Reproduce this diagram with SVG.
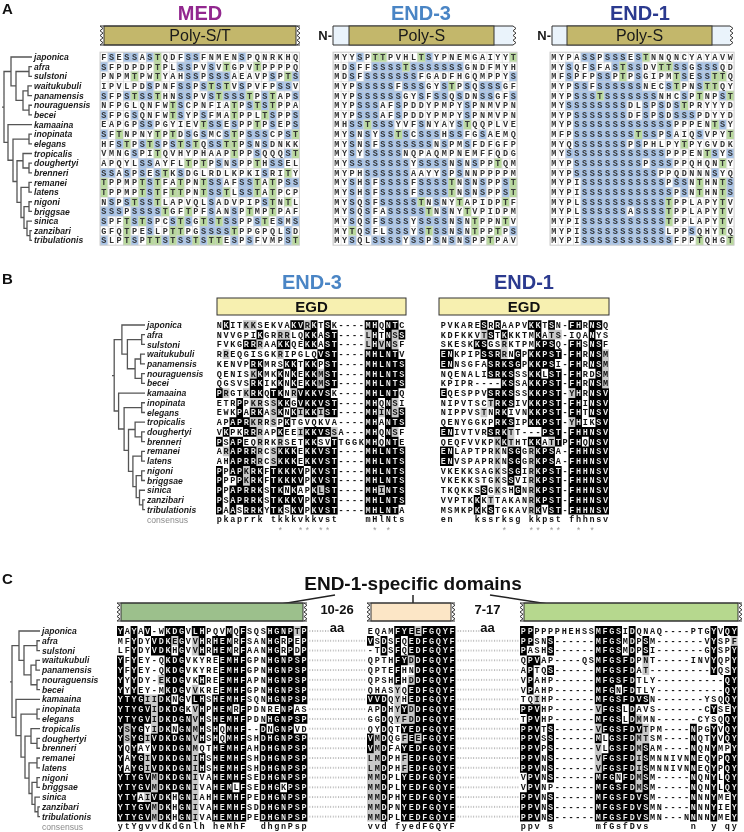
<svg xmlns="http://www.w3.org/2000/svg" width="744" height="832" viewBox="0 0 744 832">
<defs>
<style>
.nm{font-family:"Liberation Sans",Arial,sans-serif;font-weight:bold;font-style:italic;font-size:8.6px;fill:#1a1a1a}
.lbl{font-family:"Liberation Sans",Arial,sans-serif;font-weight:bold;font-size:15px;fill:#111}
.ttl{font-family:"Liberation Sans",Arial,sans-serif;font-weight:bold;font-size:20px;text-anchor:middle}
.bt{font-family:"Liberation Sans",Arial,sans-serif;font-size:16px;text-anchor:middle;fill:#1a1a1a}
.sa{font-family:"Liberation Mono","Courier New",monospace;font-weight:bold;font-size:8.5px;letter-spacing:2.57px;fill:#333}
.sb{font-family:"Liberation Mono","Courier New",monospace;font-weight:bold;font-size:8.5px;letter-spacing:1.66px;fill:#111}
.sc{font-family:"Liberation Mono","Courier New",monospace;font-weight:bold;font-size:8.5px;letter-spacing:1.7px;fill:#111}
.pre{white-space:pre}
.star{fill:#9a9a9a;font-weight:normal}
.cl{font-family:"Liberation Sans",Arial,sans-serif;font-size:8.6px;fill:#8a8a8a}
.blu{fill:none;stroke:#a8c4e8;stroke-width:1}
.grn{fill:none;stroke:#b9d99e;stroke-width:1}
.blk{fill:none;stroke:#fff;stroke-width:1;mix-blend-mode:difference}
.gry{fill:none;stroke:#c8c8c8;stroke-width:1}
.tree{fill:none;stroke:#555;stroke-width:1.3;vector-effect:non-scaling-stroke}
.zz{fill:none;stroke:#333;stroke-width:1}
.edge{stroke:#333;stroke-width:1}
.aa{font-family:"Liberation Sans",Arial,sans-serif;font-weight:bold;font-size:13px;fill:#111;text-anchor:middle}
</style>
<pattern id="g1" patternUnits="userSpaceOnUse" x="100" y="52.175" width="7.67" height="9.65"><path d="M0 0V9.65M0 0H7.67" stroke="#cdcdcd" stroke-width="1" fill="none"/></pattern>
<pattern id="g2" patternUnits="userSpaceOnUse" x="333" y="52.175" width="7.67" height="9.65"><path d="M0 0V9.65M0 0H7.67" stroke="#cdcdcd" stroke-width="1" fill="none"/></pattern>
<pattern id="g3" patternUnits="userSpaceOnUse" x="550" y="52.175" width="7.67" height="9.65"><path d="M0 0V9.65M0 0H7.67" stroke="#cdcdcd" stroke-width="1" fill="none"/></pattern>
<pattern id="dt" patternUnits="userSpaceOnUse" x="0" y="626.1" width="2.6" height="9.77"><rect x="0" y="4.4" width="1" height="1" fill="#777"/></pattern>
<path id="zA" d="M0 0l3 2.375-3 2.375 3 2.375-3 2.375 3 2.375-3 2.375 3 2.375-3 2.375"/>
<path id="zC" d="M0 0l3 2.25-3 2.25 3 2.25-3 2.25 3 2.25-3 2.25 3 2.25-3 2.25"/>
<path id="tree" class="tree" d="M0 1H-3V2H0M0 3H-4V4H0M0 5H-3V6H0M-4 3.5H-9V5.5H-3M-3 1.5H-16V4.5H-9M0 0H-21V3H-16M0 8H-3V9H0M0 11H-3V12H0M0 10H-9V11.5H-3M0 13H-3V14H0M0 15H-3V16H0M0 18H-2V19H0M0 17H-5V18.5H-2M-3 15.5H-8V17.75H-5M-3 13.5H-11V16.63H-8M-9 10.75H-15V15.06H-11M-3 8.5H-19V12.9H-15M0 7H-24V10.7H-19M-21 1.5H-28V8.85H-24M-28 5.2H-30"/>
</defs>
<rect width="744" height="832" fill="#fff"/>

<!-- ===== PANEL A ===== -->
<g id="panelA">
<text class="lbl" x="2" y="14">A</text>
<text class="ttl" x="200" y="20" fill="#92278f">MED</text>
<text class="ttl" x="421" y="20" fill="#4a85c5">END-3</text>
<text class="ttl" x="640" y="20" fill="#2b3a8f">END-1</text>
<g id="barMED">
<rect x="104" y="26" width="192" height="19" fill="#c3b76b" stroke="#333"/>
<path class="edge" d="M100 26H300M100 45H300"/>
<use href="#zA" x="100" y="26" class="zz"/>
<use href="#zA" x="297" y="26" class="zz"/>
<text class="bt" x="200" y="41">Poly-S/T</text>
</g>
<g id="barEND3A">
<text x="332" y="40" text-anchor="end" font-family="Liberation Sans,Arial,sans-serif" font-weight="bold" font-size="13" fill="#1a1a1a">N-</text>
<path d="M513 26H333V45H513" fill="#eaf3fb" stroke="#333"/>
<rect x="349" y="26" width="145" height="19" fill="#c3b76b" stroke="#333"/>
<use href="#zA" x="513" y="26" class="zz"/>
<text class="bt" x="421.5" y="41">Poly-S</text>
</g>
<g id="barEND1A">
<text x="551" y="40" text-anchor="end" font-family="Liberation Sans,Arial,sans-serif" font-weight="bold" font-size="13" fill="#1a1a1a">N-</text>
<path d="M730 26H552V45H730" fill="#eaf3fb" stroke="#333"/>
<rect x="567" y="26" width="145" height="19" fill="#c3b76b" stroke="#333"/>
<use href="#zA" x="730" y="26" class="zz"/>
<text class="bt" x="639.5" y="41">Poly-S</text>
</g>
<use href="#tree" transform="translate(32 57) scale(1 9.65)"/>
<text class="nm" x="34" y="60.1">japonica<tspan x="34" dy="9.65">afra</tspan><tspan x="34" dy="9.65">sulstoni</tspan><tspan x="34" dy="9.65">waitukubuli</tspan><tspan x="34" dy="9.65">panamensis</tspan><tspan x="34" dy="9.65">nouraguensis</tspan><tspan x="34" dy="9.65">becei</tspan><tspan x="34" dy="9.65">kamaaina</tspan><tspan x="34" dy="9.65">inopinata</tspan><tspan x="34" dy="9.65">elegans</tspan><tspan x="34" dy="9.65">tropicalis</tspan><tspan x="34" dy="9.65">doughertyi</tspan><tspan x="34" dy="9.65">brenneri</tspan><tspan x="34" dy="9.65">remanei</tspan><tspan x="34" dy="9.65">latens</tspan><tspan x="34" dy="9.65">nigoni</tspan><tspan x="34" dy="9.65">briggsae</tspan><tspan x="34" dy="9.65">sinica</tspan><tspan x="34" dy="9.65">zanzibari</tspan><tspan x="34" dy="9.65">tribulationis</tspan></text>

<g id="alnMED">
<g transform="translate(100 57) scale(7.67 9.65)">
<path class="blu" d="M1 0h1M3 0h2M6 0h1M11 0h2M18 0h1M0 1h1M10 1h2M14 1h1M11 2h2M14 2h3M22 2h1M25 2h1M6 3h1M10 3h2M13 3h1M15 3h1M18 3h1M23 3h2M0 4h1M3 4h1M5 4h2M10 4h2M14 4h1M16 4h3M21 4h1M25 4h1M10 5h1M19 5h1M21 5h1M0 6h1M4 6h1M10 6h1M13 6h1M22 6h1M25 6h1M5 7h2M14 7h2M17 7h1M22 7h1M25 7h1M0 8h1M11 8h1M13 8h1M16 8h1M19 8h3M24 8h1M2 9h1M5 9h1M7 9h1M9 9h1M11 9h1M14 9h2M19 9h1M21 9h1M4 10h1M20 10h1M24 10h1M5 11h2M15 11h1M17 11h1M22 11h2M0 12h2M3 12h1M5 12h1M7 12h1M10 12h1M21 12h1M6 13h1M14 13h2M18 13h2M24 13h2M6 14h1M14 14h2M18 14h2M1 15h1M3 15h1M5 15h2M14 15h1M21 15h1M0 16h3M4 16h4M14 16h1M17 16h1M0 17h1M4 17h1M6 17h1M9 17h1M11 17h1M14 17h1M16 17h2M20 17h1M23 17h1M25 17h1M6 18h1M13 18h4M24 18h1M0 19h1M4 19h1M8 19h1M10 19h2M13 19h1M17 19h1M19 19h1M24 19h1"/>
<path class="grn" d="M7 0h1M7 1h1M16 1h1M20 1h1M4 2h1M7 2h1M24 2h1M14 3h1M16 3h1M4 4h1M7 4h1M15 4h1M19 4h1M22 4h1M9 5h1M17 5h1M20 5h1M22 5h1M9 6h1M17 6h1M21 6h1M13 7h1M20 7h1M2 8h1M7 8h1M9 8h1M17 8h1M25 8h1M3 9h1M6 9h1M10 9h1M12 9h1M16 9h2M7 10h1M17 10h1M25 10h1M11 11h1M13 11h1M20 11h1M8 12h1M24 12h1M0 13h1M5 13h1M7 13h1M10 13h1M13 13h1M20 13h1M22 13h1M0 14h1M5 14h1M7 14h1M9 14h2M13 14h1M16 14h1M20 14h1M22 14h1M4 15h1M7 15h1M22 15h1M24 15h1M8 16h1M11 16h1M19 16h1M22 16h1M3 17h1M5 17h1M10 17h1M13 17h1M15 17h1M21 17h1M3 18h1M9 18h2M17 18h1M3 19h1M6 19h2M9 19h1M12 19h1M14 19h2M25 19h1"/>
</g>
<rect x="100" y="52.175" width="199.42" height="193" fill="url(#g1)" stroke="#cdcdcd"/>
<text class="sa" x="101.29" y="59.9">FSESSASTQDFSSFNMENSPQNRKHQ<tspan x="101.29" dy="9.65">SFPDPDPTPLSSPVSVTGPVTPPPPQ</tspan><tspan x="101.29" dy="9.65">PNPMTPWTYAHSSPSSSAEAVPSPTS</tspan><tspan x="101.29" dy="9.65">IPVLPDSPNFSSPSTSTVSPVFPSSV</tspan><tspan x="101.29" dy="9.65">SFPSTSSTHNSSPVSTSSSTPSTAPS</tspan><tspan x="101.29" dy="9.65">NFPGLQNFWTSCPNFIATPSTSTPPA</tspan><tspan x="101.29" dy="9.65">SFPGSQNFWTSYPSFMATPPLTSPPS</tspan><tspan x="101.29" dy="9.65">EAPGPSSPGYIEVTSSESPPTPSEPS</tspan><tspan x="101.29" dy="9.65">SFTNPNYTPTDSGSMCSTPSSSCPST</tspan><tspan x="101.29" dy="9.65">HFSTPSTSPSTSTQSSTTPSNSDNKK</tspan><tspan x="101.29" dy="9.65">VMNGSPITQVHYPHAAPTPPSQQQST</tspan><tspan x="101.29" dy="9.65">APQYLSSAYFLTPTPSNSPPTHSSEL</tspan><tspan x="101.29" dy="9.65">SSASPSESTKSDGLRDLKPKISRITY</tspan><tspan x="101.29" dy="9.65">TPPMPTSTFATPNTSSAFSSTATPSS</tspan><tspan x="101.29" dy="9.65">TPPMPTSTFTTPNTSSTLSSTATPCP</tspan><tspan x="101.29" dy="9.65">NSPSTSSTLAPVQLSADVPIPSTNTL</tspan><tspan x="101.29" dy="9.65">SSSPSSSSTGFTPFSANSPTMPTPAF</tspan><tspan x="101.29" dy="9.65">SPFTSTSPCSTSGTSTSSPPSTESMS</tspan><tspan x="101.29" dy="9.65">GFQTPESLPTTPGSSSSTPPGPQLSD</tspan><tspan x="101.29" dy="9.65">SLPTSPTTSTSSTSTTESPSFVMPST</tspan></text>
</g>

<g id="alnEND3A">
<g transform="translate(333 57) scale(7.67 9.65)">
<path class="blu" d="M3 0h1M12 0h1M2 1h1M5 1h4M10 1h7M2 2h1M4 2h7M23 2h1M3 3h5M9 3h3M14 3h1M17 3h1M19 3h3M3 4h6M11 4h1M13 4h2M16 4h1M19 4h2M23 4h1M3 5h3M8 5h1M17 5h1M3 6h3M8 6h1M17 6h1M2 7h2M5 7h3M11 7h1M16 7h1M2 8h1M4 8h1M6 8h2M9 8h1M11 8h3M15 8h2M19 8h1M2 9h1M4 9h1M6 9h7M14 9h1M17 9h1M2 10h1M4 10h5M2 11h8M11 11h4M16 11h1M18 11h1M4 12h6M14 12h1M16 12h1M2 13h1M4 13h1M6 13h4M11 13h4M17 13h1M19 13h1M22 13h1M2 14h1M4 14h1M6 14h4M11 14h4M17 14h1M19 14h1M22 14h1M2 15h1M4 15h1M6 15h5M13 15h1M2 16h1M4 16h1M7 16h5M14 16h1M2 17h1M4 17h1M6 17h4M11 17h4M16 17h1M4 18h1M7 18h3M11 18h1M13 18h2M16 18h1M23 18h1M2 19h1M5 19h4M10 19h2M13 19h1M15 19h1M17 19h1"/>
<path class="grn" d="M5 0h2M11 0h1M23 0h1M9 1h1M15 3h1M4 7h1M17 7h1M8 8h1M21 11h1M15 13h1M23 13h1M15 14h1M23 14h1M11 15h1M16 15h1M22 15h1M12 16h1M17 16h1M18 17h1M22 17h1M2 18h1M12 18h1M18 18h1M21 18h1M20 19h1"/>
</g>
<rect x="333" y="52.175" width="184.08" height="193" fill="url(#g2)" stroke="#cdcdcd"/>
<text class="sa" x="334.29" y="59.9">MYYSPTTPVHLTSYPNEMGAIYYT<tspan x="334.29" dy="9.65">MDSFFSSSSTSSSSSSSGNDFMYH</tspan><tspan x="334.29" dy="9.65">MDSFSSSSSSSFGADFHGQMPPYS</tspan><tspan x="334.29" dy="9.65">MYPSSSSSFSSSGYSTPSQSSSGF</tspan><tspan x="334.29" dy="9.65">MYPSSSSSSGYSFSSQSDNSSGFS</tspan><tspan x="334.29" dy="9.65">MYPSSSAFSPDDYPMPYSPNMVPN</tspan><tspan x="334.29" dy="9.65">MYPSSSAFSPDDYPMPYSPNMVPN</tspan><tspan x="334.29" dy="9.65">MHSSTSSSYVFSNYAYSTQQPLVE</tspan><tspan x="334.29" dy="9.65">MYSNSYSSTSCSSSHSSFGSAEMQ</tspan><tspan x="334.29" dy="9.65">MYSNSFSSSSSSSNSPMSFDFGFP</tspan><tspan x="334.29" dy="9.65">MYSYSSSSSNQPAQMPNEMFFQDG</tspan><tspan x="334.29" dy="9.65">MYSSSSSSSSYSSSSNSNSPPTQM</tspan><tspan x="334.29" dy="9.65">MYPHSSSSSSAAYYSPSNNPPPPM</tspan><tspan x="334.29" dy="9.65">MYSHSFSSSSFSSSSTNSNSPPST</tspan><tspan x="334.29" dy="9.65">MYSHSFSSSSFSSSSTNSNSPPST</tspan><tspan x="334.29" dy="9.65">MYSQSFSSSSSTNSNYTAPIDPTF</tspan><tspan x="334.29" dy="9.65">MYSQSFASSSSSTNSNYTVPIDPM</tspan><tspan x="334.29" dy="9.65">MYSQSFSSSSYSSSSNSNTPPNTV</tspan><tspan x="334.29" dy="9.65">MYTQSFLSSSYSTSSNSNTPPTPS</tspan><tspan x="334.29" dy="9.65">MYSQLSSSSYSSPSNSNSPPTPAV</tspan></text>
</g>

<g id="alnEND1A">
<g transform="translate(550 57) scale(7.67 9.65)">
<path class="blu" d="M4 0h2M7 0h3M11 0h1M2 1h1M5 1h1M8 1h1M10 1h2M16 1h2M19 1h3M2 2h1M6 2h2M11 2h1M17 2h1M19 2h2M3 3h2M6 3h6M15 3h1M19 3h1M3 4h3M7 4h7M17 4h1M22 4h1M2 5h8M12 5h1M14 5h1M16 5h1M3 6h7M12 6h1M14 6h1M16 6h3M3 7h13M22 7h1M3 8h8M12 8h2M15 8h1M19 8h1M3 9h7M11 9h1M2 10h13M21 10h1M23 10h1M3 11h9M13 11h3M3 12h11M21 12h1M4 13h11M16 13h2M23 13h1M4 14h12M17 14h1M23 14h1M4 15h11M4 16h6M11 16h4M4 17h11M4 18h11M18 18h1M4 19h12"/>
<path class="grn" d="M12 0h1M9 1h1M14 1h2M9 2h1M16 2h1M21 2h2M16 3h1M20 3h2M6 4h1M19 4h1M23 4h1M17 5h1M21 7h1M11 8h1M23 8h1M17 9h1M20 10h1M22 11h1M19 13h1M22 13h1M19 14h1M22 14h1M15 15h1M22 15h1M15 16h1M22 16h1M15 17h1M22 17h1M22 18h1M19 19h1M23 19h1"/>
</g>
<rect x="550" y="52.175" width="184.08" height="193" fill="url(#g3)" stroke="#cdcdcd"/>
<text class="sa" x="551.29" y="59.9">MYPASSPSSSESTNNQNCYAYAVW<tspan x="551.29" dy="9.65">MYSQFSFASTSSDVTTSSGSSSQD</tspan><tspan x="551.29" dy="9.65">MFSPFPSSPTPSGIPMTSESSTTQ</tspan><tspan x="551.29" dy="9.65">MYPSSFSSSSSSNECSTPNSTTQY</tspan><tspan x="551.29" dy="9.65">MYPSSSTSSSSSSSNHCSPTNPST</tspan><tspan x="551.29" dy="9.65">MYSSSSSSSSDLSPSDSTPRYYYD</tspan><tspan x="551.29" dy="9.65">MYPSSSSSSSDFSPSDSSSPDYYD</tspan><tspan x="551.29" dy="9.65">MYPSSSSSSSSSSSSSPPPENTSY</tspan><tspan x="551.29" dy="9.65">MFPSSSSSSSSTSSPSAIQSVPYT</tspan><tspan x="551.29" dy="9.65">MYQSSSSSSSPSPHLPYTPYGVDK</tspan><tspan x="551.29" dy="9.65">MYSSSSSSSSSSSSSPPPENTSYS</tspan><tspan x="551.29" dy="9.65">MYPSSSSSSSSSPSSSPPQHQNTY</tspan><tspan x="551.29" dy="9.65">MYPSSSSSSSSSSSPPQDNNNSYQ</tspan><tspan x="551.29" dy="9.65">MYPISSSSSSSSSSSPSSNTHNTS</tspan><tspan x="551.29" dy="9.65">MYPISSSSSSSSSSSSPSNTHNTS</tspan><tspan x="551.29" dy="9.65">MYPLSSSSSSSSSSSTPPLAPYTV</tspan><tspan x="551.29" dy="9.65">MYPLSSSSSSASSSSTPPLAPYTV</tspan><tspan x="551.29" dy="9.65">MYPISSSSSSSSSSSTPPLAPYTV</tspan><tspan x="551.29" dy="9.65">MYPISSSSSSSSSSSLPPSQHYTQ</tspan><tspan x="551.29" dy="9.65">MYPISSSSSSSSSSSSFPPTQHGT</tspan></text>
</g>
</g>

<!-- ===== PANEL B ===== -->
<g id="panelB">
<text class="lbl" x="2" y="284">B</text>
<text class="ttl" x="312" y="289" fill="#4a85c5">END-3</text>
<text class="ttl" x="524" y="289" fill="#2b3a8f">END-1</text>
<g id="egd3"><rect x="217" y="298" width="189" height="17" fill="#f7f0b0" stroke="#333"/><text x="311.5" y="312" text-anchor="middle" font-family="Liberation Sans,Arial,sans-serif" font-weight="bold" font-size="15" fill="#111">EGD</text></g>
<g id="egd1"><rect x="439" y="298" width="170" height="17" fill="#f7f0b0" stroke="#333"/><text x="524" y="312" text-anchor="middle" font-family="Liberation Sans,Arial,sans-serif" font-weight="bold" font-size="15" fill="#111">EGD</text></g>
<use href="#tree" transform="translate(145 325) scale(1.1 9.72)"/>
<text class="nm" x="147" y="328.1">japonica<tspan x="147" dy="9.72">afra</tspan><tspan x="147" dy="9.72">sulstoni</tspan><tspan x="147" dy="9.72">waitukubuli</tspan><tspan x="147" dy="9.72">panamensis</tspan><tspan x="147" dy="9.72">nouraguensis</tspan><tspan x="147" dy="9.72">becei</tspan><tspan x="147" dy="9.72">kamaaina</tspan><tspan x="147" dy="9.72">inopinata</tspan><tspan x="147" dy="9.72">elegans</tspan><tspan x="147" dy="9.72">tropicalis</tspan><tspan x="147" dy="9.72">doughertyi</tspan><tspan x="147" dy="9.72">brenneri</tspan><tspan x="147" dy="9.72">remanei</tspan><tspan x="147" dy="9.72">latens</tspan><tspan x="147" dy="9.72">nigoni</tspan><tspan x="147" dy="9.72">briggsae</tspan><tspan x="147" dy="9.72">sinica</tspan><tspan x="147" dy="9.72">zanzibari</tspan><tspan x="147" dy="9.72">tribulationis</tspan></text>
<text class="cl" x="147" y="522.6">consensus</text>

<g id="alnEND3B">
<g transform="translate(216 325) scale(6.76 9.72)">
<path class="gry" d="M4 0h2M13 0h1M9 1h2M22 1h1M26 1h1M6 2h1M22 2h1M24 2h1M26 2h1M1 3h1M9 3h1M5 5h1M15 5h1M15 6h1M1 7h1M4 7h1M11 7h1M5 8h2M8 8h1M26 8h1M8 9h1M12 9h1M15 9h1M24 9h1M26 9h1M5 10h2M8 10h1M6 11h1M12 11h1M17 11h1M26 11h1M6 12h1M9 12h1M1 13h1M6 13h1M8 13h1M6 14h1M8 14h1M4 15h1M4 16h1M15 17h1M24 17h1"/>
</g>
<text class="sb" x="216.83" y="327.9">NKITKKSEKVAKVRKTSK----MHQNTC<tspan x="216.83" dy="9.72">NVVGPIKGRRRLQKKAST----LHTNSS</tspan><tspan x="216.83" dy="9.72">FVKGRRRAAKKQEKKAST----LHVNSF</tspan><tspan x="216.83" dy="9.72">RREQGISGKRIPGLQVST----MHLNTV</tspan><tspan x="216.83" dy="9.72">KENVPRKMRSKKTKKPST----MHLNTS</tspan><tspan x="216.83" dy="9.72">QENISKKMKKNKEKKMST----MHLNTS</tspan><tspan x="216.83" dy="9.72">QGSVSRKIKKNKEKKMST----MHLNTS</tspan><tspan x="216.83" dy="9.72">PRGTKRKQTKNRVKKVSK----MHLNTQ</tspan><tspan x="216.83" dy="9.72">ETRPPKRSSKKGVKKVST----MHQNSI</tspan><tspan x="216.83" dy="9.72">EWKPARKASKNKIKKIST----MHINSS</tspan><tspan x="216.83" dy="9.72">APAPRKRRSPKTGVQKVA----MHANTS</tspan><tspan x="216.83" dy="9.72">VKPKRRRAPKEEIKKVSSA---MHQNSF</tspan><tspan x="216.83" dy="9.72">PSAPEQRRKRSETKKSVTTGGKMHQNTE</tspan><tspan x="216.83" dy="9.72">ARAPRRRCSKKKEKKVST----MHLNTS</tspan><tspan x="216.83" dy="9.72">AHAPRRRCSKKKEKKVST----MHLNTS</tspan><tspan x="216.83" dy="9.72">PPAPKRKFTKKKVPKVST----MHLNTS</tspan><tspan x="216.83" dy="9.72">PPPPKRKFTKKKVPKVST----MHLNTS</tspan><tspan x="216.83" dy="9.72">PPAPRRKSTKNKAPKLST----MHINTS</tspan><tspan x="216.83" dy="9.72">PSAPRRKSTKKKVPKVST----MHLNTS</tspan><tspan x="216.83" dy="9.72">PAASRRKYTKSKVPKVST----MHLNTA</tspan></text>
<g transform="translate(216 325) scale(6.76 9.72)">
<path class="blk" d="M1 0h1M11 0h2M14 0h1M16 0h1M22 0h2M25 0h2M6 1h1M13 1h2M16 1h2M23 1h1M25 1h1M27 1h1M4 2h2M9 2h2M13 2h2M16 2h2M23 2h1M25 2h1M15 3h3M22 3h5M5 4h2M10 4h2M13 4h2M16 4h2M22 4h6M6 5h1M9 5h1M11 5h1M13 5h2M16 5h2M22 5h6M5 6h2M9 6h1M11 6h1M13 6h2M16 6h2M22 6h6M0 7h1M5 7h2M8 7h2M12 7h5M22 7h5M3 8h1M9 8h2M12 8h6M22 8h2M25 8h1M3 9h1M5 9h2M9 9h1M11 9h1M13 9h2M16 9h2M22 9h2M25 9h1M27 9h1M2 10h3M10 10h1M22 10h2M25 10h3M1 11h1M4 11h2M9 11h1M13 11h4M22 11h2M25 11h1M0 12h1M2 12h2M13 12h2M17 12h1M22 12h2M25 12h2M2 13h4M9 13h3M13 13h5M22 13h6M2 14h4M9 14h3M13 14h5M22 14h6M0 15h1M2 15h2M5 15h2M8 15h5M14 15h4M22 15h6M0 16h1M3 16h1M5 16h2M8 16h5M14 16h4M22 16h6M0 17h1M2 17h5M8 17h2M11 17h1M14 17h1M16 17h2M22 17h2M25 17h3M0 18h1M2 18h5M8 18h5M14 18h4M22 18h6M0 19h1M2 19h1M4 19h3M8 19h2M11 19h2M14 19h4M22 19h5"/>
</g>
<text class="sb pre" x="216.83" y="522.3">pkaprrk tkkkvkkvst    mHlNts</text>
<text class="sb pre star" x="216.83" y="534">         *  ** **      * *</text>
</g>

<g id="alnEND1B">
<g transform="translate(440 325) scale(6.76 9.72)">
<path class="gry" d="M6 1h1M16 1h2M9 2h1M9 3h1M24 3h1M24 4h1M24 5h1M24 6h1M19 7h1M7 8h1M6 9h1M19 10h1M10 11h1M8 12h1M10 12h1M16 12h1M8 13h1M13 13h1M8 14h1M13 14h1M8 15h1M13 15h1M8 16h1M13 16h1M8 17h1M13 17h1M7 18h1M13 18h1M13 19h1"/>
</g>
<text class="sb" x="440.83" y="327.9">PVKARESRRAAPVKKTSN-FHRNSQ<tspan x="440.83" dy="9.72">KDFKKVTSTKKKTMKATS-IQANYS</tspan><tspan x="440.83" dy="9.72">SKESKKSGSRKTPMKPSQ-FHSNSF</tspan><tspan x="440.83" dy="9.72">ENKPIPSSRRNGPKKPST-FHRNSM</tspan><tspan x="440.83" dy="9.72">ENNSGFASRKSGPKKPSI-FHRNSM</tspan><tspan x="440.83" dy="9.72">NQENALISRKSSSKKLST-FHRDSM</tspan><tspan x="440.83" dy="9.72">KPIPR----KSSAKKPST-FHRNSM</tspan><tspan x="440.83" dy="9.72">EQESPPVSRKSSSKKPST-YHRNSV</tspan><tspan x="440.83" dy="9.72">NIPVTSCTRKSIVKKPST-FHINSV</tspan><tspan x="440.83" dy="9.72">NIPPVSTNRKIVNKKPST-FHTNSV</tspan><tspan x="440.83" dy="9.72">QENYGGKPRKSIPKKPST-YHIKSV</tspan><tspan x="440.83" dy="9.72">ENIVTVRSRKTT---PST-FHHNSV</tspan><tspan x="440.83" dy="9.72">QEQFVVKPKKTHTKKATTPFHQNSV</tspan><tspan x="440.83" dy="9.72">ENLAPTPRKNSGGRKPSA-FHHNSV</tspan><tspan x="440.83" dy="9.72">ENVSPAPRKNSGGRKPSA-FHHNSV</tspan><tspan x="440.83" dy="9.72">VKEKKSAGKSSGIRKPST-FHHNSV</tspan><tspan x="440.83" dy="9.72">VKEKKSTGKSSVIRKPST-FHHNSV</tspan><tspan x="440.83" dy="9.72">TKQKKSSGKSHGNRKPST-FHHNSV</tspan><tspan x="440.83" dy="9.72">VVPTKKKTTAKANRKPST-FHHNSV</tspan><tspan x="440.83" dy="9.72">MSMKPKKSTGKAVRKVST-FHHNSV</tspan></text>
<g transform="translate(440 325) scale(6.76 9.72)">
<path class="blk" d="M6 0h1M8 0h1M13 0h2M16 0h1M19 0h2M22 0h2M7 1h1M9 1h1M14 1h1M22 1h1M5 2h2M14 2h3M19 2h2M22 2h2M0 3h2M6 3h3M11 3h1M13 3h5M19 3h2M22 3h2M0 4h2M7 4h5M13 4h4M19 4h2M22 4h2M7 5h4M13 5h2M16 5h2M19 5h2M23 5h1M9 6h2M13 6h5M19 6h2M22 6h2M0 7h1M7 7h4M13 7h5M20 7h1M22 7h3M8 8h3M13 8h5M19 8h2M22 8h3M8 9h2M13 9h5M19 9h2M22 9h3M8 10h3M13 10h5M20 10h1M23 10h2M0 11h2M7 11h3M15 11h3M19 11h6M9 12h1M13 12h2M17 12h1M19 12h2M22 12h3M0 13h2M10 13h2M14 13h3M19 13h6M0 14h2M10 14h2M14 14h3M19 14h6M10 15h2M14 15h4M19 15h6M10 16h1M14 16h4M19 16h6M6 17h1M11 17h1M14 17h4M19 17h6M5 18h1M14 18h4M19 18h6M5 19h1M7 19h1M14 19h1M16 19h2M19 19h6"/>
</g>
<text class="sb pre" x="440.83" y="522.3">en   kssrksg kkpst fhhnsv</text>
<text class="sb pre star" x="440.83" y="534">         *   ** **  * *</text>
</g>
</g>

<!-- ===== PANEL C ===== -->
<g id="panelC">
<text class="lbl" x="2" y="584">C</text>
<text x="413" y="590" text-anchor="middle" font-family="Liberation Sans,Arial,sans-serif" font-weight="bold" font-size="19" fill="#111">END-1-specific domains</text>
<g id="calloutLines" stroke="#222" stroke-width="1.5">
<line x1="335" y1="595" x2="210" y2="616"/>
<line x1="413" y1="595" x2="413" y2="616"/>
<line x1="490" y1="595" x2="625" y2="616"/>
</g>
<g id="barC1">
<rect x="121" y="603" width="182" height="18" fill="#9cc08c" stroke="#333"/>
<path class="edge" d="M117 603H307M117 621H307"/>
<use href="#zC" x="117" y="603" class="zz"/><use href="#zC" x="304" y="603" class="zz"/>
</g>
<g id="barC2">
<rect x="371" y="603" width="80" height="18" fill="#fce6c6" stroke="#333"/>
<path class="edge" d="M367 603H455M367 621H455"/>
<use href="#zC" x="367" y="603" class="zz"/><use href="#zC" x="452" y="603" class="zz"/>
</g>
<g id="barC3">
<rect x="524" y="603" width="214" height="18" fill="#b6d88e" stroke="#333"/>
<path class="edge" d="M520 603H742M520 621H742"/>
<use href="#zC" x="520" y="603" class="zz"/><use href="#zC" x="739" y="603" class="zz"/>
</g>
<text class="aa" x="337" y="614">10-26</text><text class="aa" x="337" y="631.5">aa</text>
<text class="aa" x="487.5" y="614">7-17</text><text class="aa" x="487.5" y="631.5">aa</text>
<use href="#tree" transform="translate(40 631) scale(1 9.77)"/>
<text class="nm" x="42" y="634.1">japonica<tspan x="42" dy="9.77">afra</tspan><tspan x="42" dy="9.77">sulstoni</tspan><tspan x="42" dy="9.77">waitukubuli</tspan><tspan x="42" dy="9.77">panamensis</tspan><tspan x="42" dy="9.77">nouraguensis</tspan><tspan x="42" dy="9.77">becei</tspan><tspan x="42" dy="9.77">kamaaina</tspan><tspan x="42" dy="9.77">inopinata</tspan><tspan x="42" dy="9.77">elegans</tspan><tspan x="42" dy="9.77">tropicalis</tspan><tspan x="42" dy="9.77">doughertyi</tspan><tspan x="42" dy="9.77">brenneri</tspan><tspan x="42" dy="9.77">remanei</tspan><tspan x="42" dy="9.77">latens</tspan><tspan x="42" dy="9.77">nigoni</tspan><tspan x="42" dy="9.77">briggsae</tspan><tspan x="42" dy="9.77">sinica</tspan><tspan x="42" dy="9.77">zanzibari</tspan><tspan x="42" dy="9.77">tribulationis</tspan></text>
<text class="cl" x="42" y="829.6">consensus</text>
<rect x="308" y="636.5" width="58" height="185" fill="url(#dt)"/>
<rect x="308" y="626.1" width="22" height="10" fill="url(#dt)"/>
<rect x="456" y="636.5" width="63" height="185" fill="url(#dt)"/>
<rect x="456" y="626.1" width="24" height="10" fill="url(#dt)"/>

<g id="alnC1">
<g transform="translate(117 631) scale(6.8 9.77)">
<path class="gry" d="M26 0h1M8 1h1M11 1h1M11 2h1M6 5h1M11 6h1M4 7h2M5 8h1M11 8h1M5 9h1M11 9h1M1 10h1M5 10h1M11 10h1M1 11h1M4 11h1M11 11h1M11 12h1M4 13h1M11 13h1M4 14h1M11 14h1M5 15h1M11 15h1M5 16h1M11 16h1M4 17h1M11 17h1M5 18h1M11 18h1M5 19h1M11 19h1"/>
</g>
<text class="sc" x="117.85" y="633.9">YAYAV-WKDGVLHPQVMQFSQSHGNPTP<tspan x="117.85" dy="9.77">MFYDYVDKEGVVHRHEMRFSANHGRPEP</tspan><tspan x="117.85" dy="9.77">LFYDYVDKHGVVHRHEMRFAANHGRPDP</tspan><tspan x="117.85" dy="9.77">YFYEY-QKDGVKYREEMHFGPNHGNPSP</tspan><tspan x="117.85" dy="9.77">YFYEY-QKDGVKYREEMHFGPNHGNPSP</tspan><tspan x="117.85" dy="9.77">YYYDY-EKDGVKHREEMHFAPNHGNPSP</tspan><tspan x="117.85" dy="9.77">YYYEY-MKDGVVKREEMHFGPNHGNPSP</tspan><tspan x="117.85" dy="9.77">YTYGIIDKNGVLHSHEMHFSQNHGNPSP</tspan><tspan x="117.85" dy="9.77">YTYGVIDKDGKVHPHEMRFPDNRENPAS</tspan><tspan x="117.85" dy="9.77">YTYGVIDKDGNVHSHEMHFPDNHGNPSP</tspan><tspan x="117.85" dy="9.77">YSYGYIDKNGNMHSHQMHF--DNGNPVD</tspan><tspan x="117.85" dy="9.77">YSYGIVDKDGNVHSHQMHFSHDHGNPSP</tspan><tspan x="117.85" dy="9.77">YQYAYVDKDGNMQTHEMHFAHDHGNPSP</tspan><tspan x="117.85" dy="9.77">YAYGIVDKDGNIHSHEMHFSHDHGNPSP</tspan><tspan x="117.85" dy="9.77">YAYGIVDKDGNIHSHEMHFSHDHGNPSP</tspan><tspan x="117.85" dy="9.77">YTYGVMDKDGNIVAHEMHFSEDHGNPSP</tspan><tspan x="117.85" dy="9.77">YTYGVMDKDGNIVAHEMLFSEDHGKPSP</tspan><tspan x="117.85" dy="9.77">YTYAIVDKHGNIAHHEMHFPEDHGNPSP</tspan><tspan x="117.85" dy="9.77">YTYGVMDKHGNIVAHEMHFSDDHGNPSP</tspan><tspan x="117.85" dy="9.77">YTYGVMDKHGNIVAHEMHFPEDHGNPSP</tspan></text>
<g transform="translate(117 631) scale(6.8 9.77)">
<path class="blk" d="M0 0h1M2 0h1M4 0h1M7 0h3M11 0h2M16 0h1M18 0h1M22 0h4M27 0h1M2 1h1M5 1h3M9 1h1M12 1h1M14 1h3M18 1h1M22 1h2M25 1h1M27 1h1M2 2h1M5 2h3M9 2h1M12 2h1M14 2h3M18 2h1M22 2h2M25 2h1M27 2h1M0 3h1M2 3h1M7 3h3M15 3h4M22 3h6M0 4h1M2 4h1M7 4h3M15 4h4M22 4h6M0 5h1M2 5h1M7 5h3M12 5h1M15 5h4M22 5h6M0 6h1M2 6h1M7 6h3M15 6h4M22 6h6M0 7h4M6 7h2M9 7h1M11 7h2M14 7h5M22 7h6M0 8h5M6 8h4M12 8h1M14 8h3M18 8h1M24 8h2M0 9h5M6 9h5M12 9h1M14 9h5M22 9h6M0 10h1M2 10h2M6 10h2M9 10h2M12 10h1M14 10h1M16 10h3M21 10h1M23 10h3M0 11h1M2 11h2M5 11h6M12 11h1M14 11h1M16 11h3M21 11h7M0 12h1M2 12h1M5 12h6M14 12h5M21 12h7M0 13h1M2 13h2M5 13h6M12 13h1M14 13h5M21 13h7M0 14h1M2 14h2M5 14h6M12 14h1M14 14h5M21 14h7M0 15h5M6 15h5M14 15h5M21 15h7M0 16h5M6 16h5M14 16h3M18 16h1M21 16h3M25 16h3M0 17h3M5 17h3M9 17h2M14 17h5M21 17h7M0 18h5M6 18h2M9 18h2M14 18h5M21 18h7M0 19h5M6 19h2M9 19h2M14 19h5M21 19h7"/>
</g>
<text class="sc pre" x="117.85" y="829.3">ytYgvvdKdGnlh heMhF  dhgnPsp</text>
</g>

<g id="alnC2">
<g transform="translate(367 631) scale(6.8 9.77)">
<path class="gry" d="M7 0h1M6 3h1M6 5h1M4 6h1M4 7h1M4 8h1M6 8h1M4 9h3M1 11h1M5 11h1M7 11h1M1 12h1M0 13h2M5 13h1M0 14h2M5 14h1M0 15h2M0 16h2M0 17h2M0 18h2M0 19h2"/>
</g>
<text class="sc" x="367.85" y="633.9">EQAMFYEEFGQYF<tspan x="367.85" dy="9.77">VSDSFQEDFGQYF</tspan><tspan x="367.85" dy="9.77">-TDSFQEDFGQYF</tspan><tspan x="367.85" dy="9.77">QPTHFYDDFGQYF</tspan><tspan x="367.85" dy="9.77">QPTEFHNDFGQYF</tspan><tspan x="367.85" dy="9.77">QPSHFHDDFGQYF</tspan><tspan x="367.85" dy="9.77">QHASYQEDFGQYF</tspan><tspan x="367.85" dy="9.77">VVDQYHEDFGQYF</tspan><tspan x="367.85" dy="9.77">APDHYYDDFGQYF</tspan><tspan x="367.85" dy="9.77">GGDQYFDDFGQYF</tspan><tspan x="367.85" dy="9.77">QYDQTYEDFGQYF</tspan><tspan x="367.85" dy="9.77">VMDQGFEEFGQYF</tspan><tspan x="367.85" dy="9.77">VMDFAYEDFGQYF</tspan><tspan x="367.85" dy="9.77">LMDPHFEDFGQYF</tspan><tspan x="367.85" dy="9.77">LMDPHFEDFGQYF</tspan><tspan x="367.85" dy="9.77">MMDPLYEDFGQYF</tspan><tspan x="367.85" dy="9.77">MMDPLYEDFGQYF</tspan><tspan x="367.85" dy="9.77">MMDPHYEDFGQYF</tspan><tspan x="367.85" dy="9.77">MMDPNYEDFGQYF</tspan><tspan x="367.85" dy="9.77">MMDPLYEDFGQYF</tspan></text>
<g transform="translate(367 631) scale(6.8 9.77)">
<path class="blk" d="M4 0h3M8 0h5M0 1h1M2 1h1M4 1h1M6 1h7M2 2h1M4 2h1M6 2h7M4 3h2M7 3h6M4 4h1M7 4h6M4 5h1M7 5h6M6 6h7M0 7h3M6 7h7M2 8h1M5 8h1M7 8h6M2 9h1M7 9h6M2 10h1M5 10h8M0 11h1M2 11h1M6 11h1M8 11h5M0 12h1M2 12h1M5 12h8M2 13h1M6 13h7M2 14h1M6 14h7M2 15h1M5 15h8M2 16h1M5 16h8M2 17h1M5 17h8M2 18h1M5 18h8M2 19h1M5 19h8"/>
</g>
<text class="sc pre" x="367.85" y="829.3">vvd fyedFGQYF</text>
</g>

<g id="alnC3">
<g transform="translate(520 631) scale(6.8 9.77)">
<path class="gry" d="M31 1h1M18 3h1M18 4h1M2 7h1M11 8h1M17 9h1M11 10h1M18 10h1M17 11h2M11 12h1M17 12h1M11 13h1M17 13h1M11 14h1M17 14h1M17 15h1M17 16h1"/>
</g>
<text class="sc" x="520.85" y="633.9">PPPPPPHEHSSMFGSIDQNAQ----PTGYVQY<tspan x="520.85" dy="9.77">PPSNS------MFGSMDPSM-------VYSPF</tspan><tspan x="520.85" dy="9.77">PASHS------MFGSMDPSI-------GYSPY</tspan><tspan x="520.85" dy="9.77">QPVAP----QSMFGSFDPNT-----INVYQPY</tspan><tspan x="520.85" dy="9.77">APTQS------MFGSFDAT---------YQSY</tspan><tspan x="520.85" dy="9.77">VPAHP------MFGSFDTLY----------QY</tspan><tspan x="520.85" dy="9.77">VPAHP------MFGNFDTLY----------QY</tspan><tspan x="520.85" dy="9.77">TQIHP------MFGSFDVSN-------YSQQY</tspan><tspan x="520.85" dy="9.77">PPVHP------VFGSLDAVS-------CYSEY</tspan><tspan x="520.85" dy="9.77">TPVHP------MFGSLDMMN------CYSQQY</tspan><tspan x="520.85" dy="9.77">PPVTS------VFGSFDVTPM----NPGYVQY</tspan><tspan x="520.85" dy="9.77">PPVSS------MLGSFDMTSM----NQTYVQY</tspan><tspan x="520.85" dy="9.77">PPVPS------VLGSFDMSAM----NQNYMPY</tspan><tspan x="520.85" dy="9.77">PPVNS------VFGSFDISMNNIVNNEQYPQY</tspan><tspan x="520.85" dy="9.77">PPVNS------VFGSFDISMNNIVNNEQYPQY</tspan><tspan x="520.85" dy="9.77">VPVNS------MFGNFDMSM-----NQNYLQY</tspan><tspan x="520.85" dy="9.77">VPVNP------MFGSFDMSM-----NQNYLQY</tspan><tspan x="520.85" dy="9.77">PPVNS------MFGSFDVSM-----NNNYMEY</tspan><tspan x="520.85" dy="9.77">PPVNS------MFGSFDVSMN----NNNYIEY</tspan><tspan x="520.85" dy="9.77">PPVNS------MFGSFDVSMN---NNNNYMEY</tspan></text>
<g transform="translate(520 631) scale(6.8 9.77)">
<path class="blk" d="M0 0h2M11 0h4M16 0h1M28 0h1M30 0h2M0 1h2M4 1h1M11 1h4M16 1h1M18 1h1M28 1h1M0 2h1M4 2h1M11 2h4M16 2h1M18 2h1M28 2h1M31 2h1M1 3h2M11 3h6M28 3h1M31 3h1M1 4h1M4 4h1M11 4h6M28 4h1M31 4h1M1 5h1M11 5h6M30 5h2M1 6h1M11 6h3M15 6h2M30 6h2M11 7h8M30 7h2M0 8h3M12 8h3M16 8h1M28 8h1M31 8h1M1 9h2M11 9h4M16 9h1M30 9h2M0 10h3M4 10h1M12 10h6M25 10h1M28 10h1M30 10h2M0 11h3M4 11h1M11 11h1M13 11h4M25 11h1M28 11h1M30 11h2M0 12h3M4 12h1M13 12h4M18 12h1M25 12h1M28 12h1M31 12h1M0 13h3M4 13h1M12 13h5M18 13h1M25 13h1M28 13h1M30 13h2M0 14h3M4 14h1M12 14h5M18 14h1M25 14h1M28 14h1M30 14h2M1 15h2M4 15h1M11 15h3M15 15h2M18 15h1M25 15h1M28 15h1M30 15h2M1 16h2M11 16h6M18 16h1M25 16h1M28 16h1M30 16h2M0 17h3M4 17h1M11 17h8M25 17h1M28 17h1M31 17h1M0 18h3M4 18h1M11 18h8M25 18h1M28 18h1M31 18h1M0 19h3M4 19h1M11 19h8M25 19h1M28 19h1M31 19h1"/>
</g>
<text class="sc pre" x="520.85" y="829.3">ppv s      mfGsfDvs      n  y qy</text>
</g>
</g>
</svg>
